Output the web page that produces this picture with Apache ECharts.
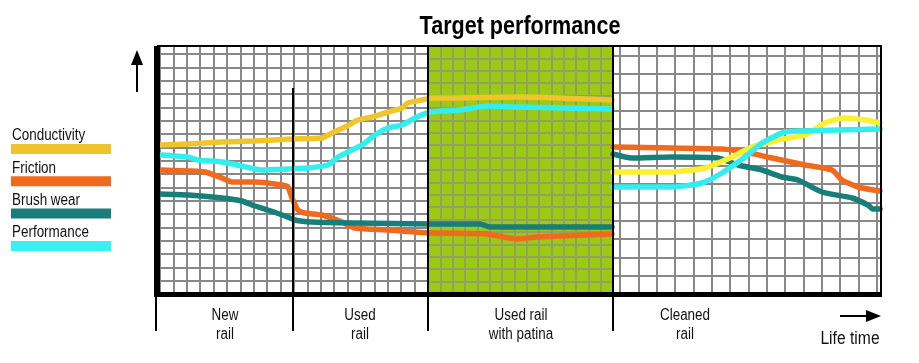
<!DOCTYPE html>
<html><head><meta charset="utf-8">
<script src="https://cdn.jsdelivr.net/npm/echarts@6/dist/echarts.min.js"></script>
<style>html,body{margin:0;padding:0;background:#fff}#c{width:919px;height:363px}</style>
</head><body><div id="c"></div>
<script>
// ---------- data (x: life time units, y: level units) ----------
const titleText = 'Target performance';
const axisTitle = 'Life time';
const metricNames = ['Conductivity', 'Friction', 'Brush wear', 'Performance'];
const sectionNames = ['New\nrail', 'Used\nrail', 'Used rail\nwith patina', 'Cleaned\nrail'];
const sectionEdges = [0, 136, 271, 456, 725];
const sectionLabelX = [68, 203, 364, 528];

const conductivityBefore = [[3,149],[31,150],[65,152],[98,153],[135,155],[165,156],[175,161],[188,167],[201,174],[215,177],[231,182],[245,186],[251,191],[265,194],[275,196],[296,196],[363,197],[455,194]];
const conductivityCleaned = [[456,122],[515,122],[548,126],[575,137],[595,147],[621,154],[648,159],[668,171],[688,176],[708,174],[723,171]];
const frictionBefore = [[3,124],[31,123],[48,122],[65,116],[75,112],[98,112],[125,109],[131,107],[135,96],[141,84],[148,81],[165,79],[185,72],[198,66],[231,64],[275,61],[330,60],[360,55],[380,57],[455,60]];
const frictionCleaned = [[456,147],[515,146],[565,145],[588,142],[615,136],[648,129],[675,124],[685,114],[701,107],[723,103]];
const brushWearBefore = [[3,100],[31,99],[65,96],[85,93],[95,89],[111,84],[128,78],[138,74],[155,72],[198,71],[275,70],[323,70],[333,67],[455,67]];
const brushWearCleaned = [[456,140],[475,136],[515,137],[561,136],[581,129],[605,124],[625,117],[641,114],[665,102],[695,96],[711,89],[716,85],[723,85]];
const performanceBefore = [[3,139],[31,137],[41,134],[65,132],[85,128],[105,124],[131,125],[151,126],[171,129],[181,137],[191,142],[205,149],[218,159],[231,166],[245,169],[258,176],[273,182],[303,184],[330,188],[363,187],[455,185]];
const performanceCleaned = [[456,107],[515,107],[545,111],[565,121],[588,137],[605,151],[628,162],[648,163],[681,164],[723,165]];

(function () {
// ---------- styles ----------
const FONT = '"Liberation Sans", Arial, sans-serif';
const NARROW = 0.84;
const legendColors = {'Conductivity':'#efc32b','Friction':'#f06a1e','Brush wear':'#1a7d7a','Performance':'#38f0f0'};
const GRIDLINE = '#888888';

const chart = echarts.init(document.getElementById('c'), null, {renderer:'canvas'});

function bgAxis(gi, max, interval, split, color) {
  return {type:'value', gridIndex:gi, min:0, max:max, interval:interval, show:true,
    axisLine:{show:false}, axisTick:{show:false}, axisLabel:{show:false},
    splitLine:{show:split, lineStyle:{color:color || GRIDLINE, width:2}}};
}

function lineSeries(name, data, color, z) {
  return {type:'line', name:name, data:data, xAxisIndex:0, yAxisIndex:0, showSymbol:false,
    smooth:0.2, z:z, lineStyle:{color:color, width:5.5, cap:'round', join:'round'}, silent:true};
}

const option = {
  animation:false,
  grid:[
    {left:157, top:46, width:725, height:248},
    {left:160, top:46, width:268, height:248},
    {left:428, top:46, width:185, height:248, show:true, backgroundColor:'#9bc914', borderWidth:0},
    {left:620, top:46, width:256.667, height:248},
    {left:613, top:46, width:267, height:248}
  ],
  xAxis:[
    {type:'value', gridIndex:0, min:0, max:725, show:false},
    bgAxis(1, 268, 13.4, true),
    bgAxis(2, 185, 12.3333, true, '#90a260'),
    bgAxis(3, 256.667, 18.3333, true),
    bgAxis(4, 267, 267, false)
  ],
  yAxis:[
    {type:'value', gridIndex:0, min:0, max:248, show:false},
    bgAxis(1, 248, 13.3333, true),
    bgAxis(2, 248, 12.4, true, '#90a260'),
    bgAxis(3, 248, 248, false),
    bgAxis(4, 248, 18.3333, true)
  ],
  series:[
    lineSeries('Friction', frictionBefore, '#f06a1e', 3),
    lineSeries('Friction', frictionCleaned, '#f06a1e', 3),
    lineSeries('Brush wear', brushWearBefore, '#177e7a', 4),
    lineSeries('Brush wear', brushWearCleaned, '#177e7a', 4),
    lineSeries('Conductivity', conductivityBefore, '#eec52c', 5),
    lineSeries('Conductivity', conductivityCleaned, '#f8f030', 5),
    lineSeries('Performance', performanceBefore, '#33eeee', 6),
    lineSeries('Performance', performanceCleaned, '#33eeee', 6)
  ]
};
chart.setOption(option);

// ---------- decorations positioned through the main grid's scales ----------
const px = (x, y) => chart.convertToPixel({gridIndex:0}, [x, y]);
const g = [];
const p0 = px(0, 0), pTop = px(725, 248);
const gL = p0[0], gB = p0[1], gR = pTop[0], gT = pTop[1];
const below = gB + 37;

function txt(text, x, y, font, align, sx, extra) {
  return {type:'text', x:x, y:y, scaleX:sx, scaleY:1, z:20,
    style:Object.assign({text:text, x:0, y:0, textAlign:align, textVerticalAlign:'middle', font:font, fill:'#111'}, extra || {})};
}

g.push(txt(titleText, 520, 27, 'bold 25px ' + FONT, 'center', 0.862, {fill:'#000'}));

// frame
g.push({type:'rect', shape:{x:gL-3, y:gT, width:6, height:gB-gT+3}, style:{fill:'#000'}, z:20});
g.push({type:'rect', shape:{x:gL-3, y:gB-2, width:gR-gL+3, height:5}, style:{fill:'#000'}, z:20});
g.push({type:'line', shape:{x1:gL, y1:gT, x2:gR, y2:gT}, style:{stroke:'#000', lineWidth:2}, z:20});
g.push({type:'line', shape:{x1:gR-1, y1:gT, x2:gR-1, y2:gB}, style:{stroke:'#000', lineWidth:2}, z:20});
g.push({type:'line', shape:{x1:gL-1, y1:gB, x2:gL-1, y2:below}, style:{stroke:'#000', lineWidth:2}, z:20});

// section dividers
sectionEdges.slice(1, 4).forEach((e, i) => {
  const ex = Math.round(px(e, 0)[0]);
  const yStart = i === 0 ? px(e, 206)[1] : gT;
  g.push({type:'line', shape:{x1:ex, y1:yStart, x2:ex, y2:below}, style:{stroke:'#000', lineWidth:2}, z:20});
});

// section labels
sectionNames.forEach((s, i) => {
  const lx = px(sectionLabelX[i], 0)[0];
  g.push(txt(s, lx, gB + 31, '16px ' + FONT, 'center', NARROW, {lineHeight:19}));
});

// axis arrows
g.push({type:'line', shape:{x1:137, y1:92, x2:137, y2:62}, style:{stroke:'#000', lineWidth:2}, z:20});
g.push({type:'polygon', shape:{points:[[137,50],[131,65],[143,65]]}, style:{fill:'#000'}, z:20});
g.push({type:'line', shape:{x1:840, y1:316, x2:868, y2:316}, style:{stroke:'#000', lineWidth:2}, z:20});
g.push({type:'polygon', shape:{points:[[881,316],[866,310],[866,322]]}, style:{fill:'#000'}, z:20});
g.push(txt(axisTitle, 850, 339, '18px ' + FONT, 'center', 0.87));

// legend
metricNames.forEach((n, i) => {
  const ty = 136 + i * 32.3;
  g.push(txt(n, 12, ty, '16px ' + FONT, 'left', NARROW));
  g.push({type:'rect', shape:{x:11, y:ty + 8, width:100, height:10}, style:{fill:legendColors[n]}, z:20});
});

chart.setOption({graphic:{elements:g}});
})();
</script>
</body></html>
